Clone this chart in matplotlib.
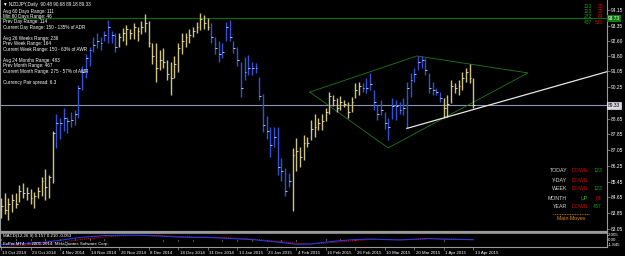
import matplotlib
matplotlib.use("Agg")
import matplotlib.pyplot as plt
import matplotlib.transforms as mtrans
from matplotlib.lines import Line2D

plt.rcParams['font.family'] = ['Liberation Sans', 'DejaVu Sans']

# ---------------- data ----------------
date_labels = ["13 Oct 2014", "23 Oct 2014", "4 Nov 2014", "14 Nov 2014", "26 Nov 2014",
               "8 Dec 2014", "18 Dec 2014", "31 Dec 2014", "13 Jan 2015", "23 Jan 2015",
               "4 Feb 2015", "16 Feb 2015", "26 Feb 2015", "10 Mar 2015", "20 Mar 2015",
               "1 Apr 2015", "13 Apr 2015"]
date_bars = [0, 8, 16, 24, 32, 40, 48, 56, 64, 72, 80, 88, 96, 104, 112, 120, 128]

highs = [84.6, 84.9, 84.6, 84.8, 84.9,
         85.3, 85.4, 85.2, 85.1, 84.95,
         85.2, 85.7, 86.1, 85.8, 88.0,
         88.9, 88.7, 89.2, 88.75, 89.0,
         89.1, 90.35, 91.3, 91.9, 92.3,
         92.8, 93.0, 92.8, 93.1, 93.65,
         93.1, 93.0, 93.0, 93.25, 93.4,
         93.2, 93.5, 93.3, 93.6, 93.95,
         93.6, 92.5, 92.5, 92.1, 92.2,
         91.6, 91.5, 91.8, 92.5, 93.0,
         93.0, 93.2, 93.3, 93.55, 94.0,
         93.9, 93.75, 93.5, 92.8, 92.6,
         92.5, 93.55, 93.65, 92.6, 92.3,
         91.5, 91.75, 91.85, 91.5, 91.45,
         90.75, 89.9, 88.8, 88.2, 88.2,
         88.2, 86.65, 86.15, 85.9, 87.15,
         87.65, 87.2, 87.8, 87.7, 88.6,
         88.9, 88.7, 88.9, 89.2, 90.0,
         89.85, 89.7, 89.8, 89.6, 89.5,
         89.75, 90.45, 90.5, 90.45, 90.7,
         90.95, 90.1, 89.35, 89.6, 89.0,
         88.7, 89.7, 89.6, 89.5, 89.7,
         90.5, 90.95, 91.2, 91.8, 91.8,
         91.7, 90.95, 90.5, 90.2, 90.0,
         89.7, 89.85, 90.6, 90.45, 90.6,
         91.0, 91.2, 91.4, 90.68]

lows = [83.6, 83.8, 83.5, 83.9, 84.1,
        84.4, 84.6, 84.5, 84.3, 84.1,
        84.6, 84.7, 84.5, 84.6, 85.4,
        87.15, 87.6, 88.0, 87.9, 88.2,
        88.3, 88.7, 90.1, 90.7, 91.3,
        92.0, 92.2, 92.1, 92.6, 92.5,
        92.5, 92.0, 92.3, 92.6, 92.4,
        92.7, 92.7, 92.6, 92.95, 93.05,
        92.3, 91.4, 90.5, 91.1, 91.2,
        90.6, 89.85, 90.7, 91.0, 91.9,
        92.3, 92.5, 92.8, 93.0, 93.15,
        93.2, 93.15, 92.5, 91.9, 91.5,
        91.7, 92.6, 92.6, 91.95, 91.3,
        89.75, 90.6, 90.85, 90.85, 90.95,
        89.6, 87.95, 87.6, 86.7, 87.2,
        85.8, 85.5, 84.7, 85.2, 83.95,
        86.0, 86.2, 86.55, 87.2, 87.55,
        87.7, 88.05, 88.05, 88.5, 88.9,
        89.3, 89.0, 89.1, 89.25, 88.7,
        89.0, 89.7, 89.85, 90.0, 89.95,
        90.1, 89.1, 88.6, 88.85, 88.1,
        87.55, 88.65, 88.6, 88.9, 88.85,
        88.15, 89.75, 90.5, 91.1, 91.2,
        90.85, 89.95, 89.85, 89.85, 89.5,
        88.7, 88.75, 89.45, 89.95, 89.85,
        90.1, 90.5, 90.45, 89.18]

closes = [84.2, 84.0, 84.3, 84.5, 84.3,
          85.0, 84.9, 84.9, 84.6, 84.7,
          85.0, 85.5, 85.2, 85.7, 87.9,
          88.4, 88.4, 88.7, 88.5, 88.6,
          88.9, 90.2, 91.0, 91.7, 92.1,
          92.4, 92.6, 92.5, 92.9, 93.3,
          92.9, 92.3, 92.8, 93.0, 93.2,
          93.0, 93.3, 93.1, 93.3, 93.5,
          92.5, 91.8, 91.2, 91.6, 91.5,
          90.9, 90.7, 91.4, 92.2, 92.6,
          92.8, 92.9, 93.1, 93.3, 93.7,
          93.5, 93.3, 92.8, 92.2, 91.9,
          92.0, 93.3, 92.8, 92.2, 91.6,
          90.2, 91.0, 91.2, 91.2, 91.2,
          89.8, 88.3, 88.0, 87.3, 87.7,
          86.2, 86.0, 85.0, 85.5, 86.8,
          87.0, 86.7, 87.4, 87.4, 88.1,
          88.2, 88.4, 88.5, 89.0, 89.8,
          89.6, 89.2, 89.5, 89.4, 89.0,
          89.5, 90.1, 90.3, 90.2, 90.2,
          90.4, 89.5, 88.9, 89.1, 88.4,
          88.2, 89.3, 89.3, 89.1, 89.2,
          90.2, 90.6, 90.9, 91.5, 91.6,
          91.1, 90.2, 90.1, 90.0, 89.7,
          89.2, 89.4, 90.3, 90.2, 90.3,
          90.7, 91.0, 90.7, 89.33]

# trend colouring per bar: K = khaki (up), B = blue (down)
trend = "K" * 15 + "B" * 17 + "K" * 25 + "B" * 22 + "K" * 19 + "B" * 22 + "K" * 9

price_ticks = [94.15, 93.35, 92.60, 91.80, 91.05, 90.25, 89.45, 88.65, 87.85,
               87.05, 86.25, 85.45, 84.65, 83.85, 83.05]
hidden_tick = 89.45  # covered by the bid label in the reference
resistance_price = 93.73
bid_price = 89.33

# diamond (bar index, price)
diamond_bars = [83.7, 112.7, 142.8, 104.9]
diamond_prices = [89.99, 91.82, 90.96, 87.16]
# trend line anchors
trend_bars = [110, 120]
trend_prices = [88.15, 88.68]

# MACD read at every 4th bar
macd_bars = list(range(0, 129, 4))
macd_main = [-1.2, -1.0, -0.8, -0.5, 0.0, 0.6, 1.0, 1.3, 1.4, 1.4, 1.3, 1.1, 0.9,
             0.8, 0.8, 0.6, 0.4, 0.2, -0.2, -0.6, -1.1, -1.0, -0.5, -0.1, 0.2,
             0.35, 0.2, 0.1, 0.3, 0.5, 0.3, 0.25, 0.157]
macd_signal = [-1.8, -1.5, -1.2, -0.9, -0.5, 0.0, 0.5, 0.9, 1.2, 1.35, 1.35, 1.25,
               1.05, 0.9, 0.85, 0.75, 0.55, 0.35, 0.0, -0.4, -0.85, -1.0, -0.8,
               -0.4, -0.05, 0.2, 0.25, 0.15, 0.2, 0.4, 0.4, 0.3, 0.21]

info_lines = [("\u25bc NZDJPY,Daily  90.48 90.68 89.18 89.33", 4.5),
              ("Avg 60 Days Range: 111", 11), ("Min 60 Days Range: 46", 16.5),
              ("Prev Day Range: 114", 22), ("Current Day Range: 150 - 135% of ADR", 27.5),
              ("Avg 26 Weeks Range: 236", 38.5), ("Prev Week Range: 164", 44),
              ("Current Week Range: 150 - 63% of AWR", 49.5),
              ("Avg 24 Months Range: 483", 60.5), ("Prev Month Range: 467", 66),
              ("Current Month Range: 275 - 57% of AMR", 71.5),
              ("Currency Pair spread: 6.3", 82.5)]

tr_green = ["123", "123", "272", "437"]
tr_red = ["29", "29", "64", "531"]

mm_labels = ["TODAY", "Y-DAY", "WEEK", "MONTH", "YEAR"]
mm_dirs = ["DOWN", "DOWN", "DOWN", "UP", "DOWN"]
mm_vals = ["123", "", "123", "64", "437"]

# ---------------- layout ----------------
W, H = 625, 256
PX = 3.69  # pixels per bar


def fx(px):
    return px / W


def fy(py):
    return 1 - py / H


fig = plt.figure(figsize=(W / 100, H / 100), dpi=100, facecolor="black")
xmin = (0 - 1) / PX
xmax = (607 - 1) / PX
grey = "#9a9a9a"
blue_c = "#3052d8"
khaki_c = "#cfc47e"

ax = fig.add_axes([0, fy(232), fx(607), 232 / H])
ax.set_facecolor("black")
ax.set_xlim(xmin, xmax)
ax.set_ylim(94.15 - 222 / 19.73, 94.15 + 10 / 19.73)

idx = list(range(len(closes)))
cols = [khaki_c if t == "K" else blue_c for t in trend]
ax.vlines(idx, lows, highs, colors=cols, lw=1.0, zorder=3)
ax.hlines(closes, [i for i in idx], [i + 0.5 for i in idx], colors="#e6e6e6", lw=0.6, zorder=4)

ax.axhline(resistance_price, color="#0b6e0b", lw=0.8, zorder=2)
ax.axhline(bid_price, color="#8d95b5", lw=0.8, zorder=2)

ax.plot(diamond_bars + [diamond_bars[0]], diamond_prices + [diamond_prices[0]],
        color="#1d7a1d", lw=0.6, zorder=2)
slope = (trend_prices[1] - trend_prices[0]) / (trend_bars[1] - trend_bars[0])
ax.plot([trend_bars[0], xmax], [trend_prices[0], trend_prices[0] + slope * (xmax - trend_bars[0])],
        color="#e6e6e6", lw=0.9, zorder=5)

ax.spines["top"].set_visible(False)
ax.spines["left"].set_color(grey)
ax.spines["left"].set_linewidth(0.8)
ax.spines["right"].set_color(grey)
ax.spines["right"].set_linewidth(0.8)
ax.spines["bottom"].set_color(grey)
ax.spines["bottom"].set_linewidth(1.6)
ax.set_xticks([])
ax.yaxis.tick_right()
ax.set_yticks(price_ticks)
ax.set_yticklabels(["" if p == hidden_tick else "%.2f" % p for p in price_ticks])
ax.tick_params(axis="y", colors=grey, labelcolor="white", labelsize=3.5,
               length=2, width=0.5, pad=1)

box_x = 1 + 1.2 / 607
ax.text(box_x, resistance_price, "%.2f" % resistance_price, transform=ax.get_yaxis_transform(),
        color="white", fontsize=3.5, va="center", ha="left", zorder=10, clip_on=False,
        bbox=dict(facecolor="#0a7d0a", edgecolor="none", pad=0.7))
ax.text(box_x, bid_price, "%.2f" % bid_price, transform=ax.get_yaxis_transform(),
        color="black", fontsize=3.5, va="center", ha="left", zorder=10, clip_on=False,
        bbox=dict(facecolor="#d8d8e0", edgecolor="white", pad=0.7, linewidth=0.4))

# ---------------- MACD panel ----------------
axm = fig.add_axes([0, fy(247), fx(607), 14 / H])
axm.set_facecolor("black")
axm.set_xlim(xmin, xmax)
axm.set_ylim(-1.845, 2.005)
hist = [m - s for m, s in zip(macd_main, macd_signal)]
axm.vlines(macd_bars, 0, hist, colors="#c8bc70", lw=0.7, linestyles=":", zorder=2)
axm.plot(macd_bars, macd_signal, color="#e01010", lw=0.7, ls=(0, (1, 1)), zorder=3)
axm.plot(macd_bars, macd_main, color="#2838e0", lw=0.8, zorder=4)
for s in ["top", "bottom", "left", "right"]:
    axm.spines[s].set_color(grey)
axm.spines["top"].set_linewidth(1.2)
axm.spines["left"].set_linewidth(0.8)
axm.spines["right"].set_linewidth(0.8)
axm.spines["bottom"].set_linewidth(0.8)
axm.set_yticks([])
axm.set_xticks(date_bars)
axm.set_xticklabels(date_labels, ha="left")
axm.tick_params(axis="x", colors=grey, labelcolor="white", labelsize=3.2,
                length=2, width=0.5, pad=0.8)
off = mtrans.ScaledTranslation(1.5 / 100, 0, fig.dpi_scale_trans)
for lab in axm.get_xticklabels():
    lab.set_transform(lab.get_transform() + off)

for val, va in [(2.005, "top"), (0.0, "center"), (-1.845, "bottom")]:
    axm.text(box_x, val, ("%.3f" % val) if val != 0 else "0.00",
             transform=axm.get_yaxis_transform(), color="white", fontsize=3.2,
             va=va, ha="left", clip_on=False)

fig.text(fx(3), fy(236.5), "MACD(12,26,9) 0.157 0.210 -0.053", color="white",
         fontsize=3.2, va="center", ha="left")
fig.text(fx(3), fy(244), "FxPro MT4, \u00a9 2001-2014, MetaQuotes Software Corp.",
         color="white", fontsize=3.2, va="center", ha="left")

# ---------------- overlays ----------------
for s, y in info_lines:
    fig.text(fx(3), fy(y), s, color="white", fontsize=3.3, va="center", ha="left")

for k, (g, r) in enumerate(zip(tr_green, tr_red)):
    y = [6, 11.3, 16.7, 22.5][k]
    fig.text(fx(592), fy(y), g, color="#18a018", fontsize=3.6, va="center", ha="right")
    fig.text(fx(603), fy(y), r, color="#e00000", fontsize=3.6, va="center", ha="right")

row_y = [171, 180.5, 189, 198.5, 207]
for lab, d, v, y in zip(mm_labels, mm_dirs, mm_vals, row_y):
    fig.text(fx(567), fy(y), lab, color="#d8d8d8", fontsize=3.8, va="center", ha="right")
    fig.text(fx(588), fy(y), d, color="#d00000" if d == "DOWN" else "#20c020",
             fontsize=3.8, va="center", ha="right")
    if v:
        fig.text(fx(602), fy(y), v, color="#e00000" if d == "UP" else "#18a018",
                 fontsize=3.8, va="center", ha="right")
fig.add_artist(Line2D([fx(553), fx(589)], [fy(214), fy(214)], transform=fig.transFigure,
                      color="#e08a00", lw=0.6, ls=(0, (1, 1))))
fig.text(fx(571), fy(219), "Main Moves", color="#e08a00", fontsize=3.8, va="center", ha="center")

fig.savefig("out.png", dpi=100, facecolor="black")
